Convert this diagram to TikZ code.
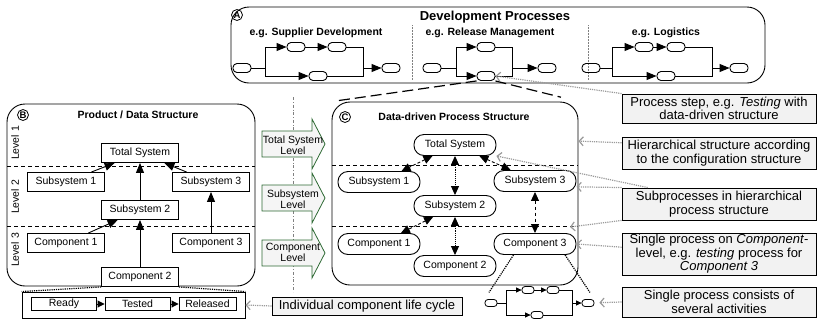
\documentclass[tikz,border=0pt]{standalone}
\usepackage{fontspec}
\setmainfont{Liberation Sans}
\usepackage{tikz}
\usetikzlibrary{arrows.meta}
\definecolor{notefill}{HTML}{F2F2F2}
\definecolor{hintgray}{HTML}{9A9A9A}
\definecolor{levelgreen}{HTML}{2E6A34}
\definecolor{levelfill}{HTML}{F5F5F5}
\tikzset{panel/.style={draw, rounded corners=18pt, line width=0.9pt, inner sep=0}}
\tikzset{badge/.style={draw, circle, line width=0.8pt, minimum size=11pt, inner sep=0, font=\bfseries\fontsize{9.5}{9.5}\selectfont}}
\tikzset{heading/.style={font=\bfseries\fontsize{10.5}{11}\selectfont}}
\tikzset{part/.style={draw, fill=white, line width=0.9pt, minimum width=77pt, minimum height=19pt, inner sep=0, font=\fontsize{10.5}{11}\selectfont}}
\tikzset{proc/.style={draw, fill=white, line width=0.9pt, rounded corners=10pt, minimum width=82pt, minimum height=21pt, inner sep=0, font=\fontsize{10.5}{11}\selectfont}}
\tikzset{lifebox/.style={draw, line width=0.9pt, minimum height=13pt, inner sep=0, font=\fontsize{10.5}{11}\selectfont}}
\tikzset{act/.style={draw, line width=0.9pt, rounded corners=4pt, minimum width=18pt, minimum height=9pt, inner sep=0}}
\tikzset{tinyact/.style={draw, line width=0.8pt, rounded corners=3pt, minimum width=12pt, minimum height=7pt, inner sep=0}}
\tikzset{note/.style={draw, line width=0.9pt, fill=notefill, inner sep=0, align=center, font=\fontsize{13}{13.5}\selectfont}}
\tikzset{levelnote/.style={align=center, font=\fontsize{10.5}{9}\selectfont}}
\tikzset{wire/.style={line width=0.9pt}}
\tikzset{flow/.style={line width=0.9pt, -{Triangle[length=10pt,width=8pt]}}}
\tikzset{stepflow/.style={line width=0.9pt, -{Triangle[length=7pt,width=7pt]}}}
\tikzset{tinyflow/.style={line width=0.8pt, -{Triangle[length=5.5pt,width=5pt]}}}
\tikzset{link/.style={line width=0.9pt, {Triangle[length=9pt,width=8pt]}-{Triangle[length=9pt,width=8pt]}}}
\tikzset{hint/.style={hintgray, line width=1.2pt, densely dotted, -{Straight Barb[length=4pt,width=9pt]}}}
\tikzset{levelline/.style={line width=0.8pt, dash pattern=on 4pt off 3pt}}
\tikzset{zoomline/.style={line width=1.2pt, dash pattern=on 11pt off 5pt}}
\tikzset{zoomdots/.style={line width=1.2pt, densely dotted}}
\tikzset{levelarrow/.style={draw=levelgreen, fill=levelfill, line width=0.8pt}}
\tikzset{sep/.style={gray, line width=0.5pt, densely dotted}}

\begin{document}
\begin{tikzpicture}[x=1pt, y=-1pt]
  \useasboundingbox (0, 0) rectangle (817, 322);

  % panel A: development processes
  \node[panel, minimum width=534pt, minimum height=76pt] at (498, 45) (panelA) {};
  \node[badge] at (237, 15) (badgeA) {A};
  \node[font=\bfseries\fontsize{13}{13}\selectfont] at (495, 17) (titleA) {Development Processes};
  \node[heading] at (316, 33) (supLabel) {e.g. Supplier Development};
  \node[heading] at (490, 33) (relLabel) {e.g. Release Management};
  \node[heading] at (666, 33) (logLabel) {e.g. Logistics};
  \draw[sep] (412, 25) -- (412, 80);
  \draw[sep] (588, 25) -- (588, 80);

  % supplier development
  \node[act] at (242, 68) (supStart) {};
  \node[act] at (296, 47) (supA) {};
  \node[act] at (337, 47) (supB) {};
  \node[act] at (318, 76) (supC) {};
  \node[act] at (391, 68) (supEnd) {};
  \coordinate (supSplit) at (265, 68);
  \coordinate (supJoin) at (363, 68);
  \draw[wire] (supStart) -- (supSplit);
  \draw[flow] (supSplit) |- (supA);
  \draw[flow] (supA) -- (supB);
  \draw[wire] (supB) -| (supJoin);
  \draw[flow] (supSplit) |- (supC);
  \draw[wire] (supC) -| (supJoin);
  \draw[flow] (supJoin) -- (supEnd);

  % release management
  \node[act] at (432, 68) (relStart) {};
  \node[act] at (486, 47) (relA) {};
  \node[act] at (486, 76) (relB) {};
  \node[act] at (547, 68) (relEnd) {};
  \coordinate (relSplit) at (456, 68);
  \coordinate (relJoin) at (512, 68);
  \draw[wire] (relStart) -- (relSplit);
  \draw[flow] (relSplit) |- (relA);
  \draw[wire] (relA) -| (relJoin);
  \draw[flow] (relSplit) |- (relB);
  \draw[wire] (relB) -| (relJoin);
  \draw[flow] (relJoin) -- (relEnd);

  % logistics
  \node[act] at (591, 68) (logStart) {};
  \node[act] at (644, 47) (logA) {};
  \node[act] at (676, 47) (logB) {};
  \node[act] at (666, 76) (logC) {};
  \node[act] at (739, 68) (logEnd) {};
  \coordinate (logSplit) at (612, 68);
  \coordinate (logJoin) at (712, 68);
  \draw[wire] (logStart) -- (logSplit);
  \draw[flow] (logSplit) |- (logA);
  \draw[flow] (logA) -- (logB);
  \draw[wire] (logB) -| (logJoin);
  \draw[flow] (logSplit) |- (logC);
  \draw[wire] (logC) -| (logJoin);
  \draw[flow] (logJoin) -- (logEnd);

  % level arrows between B and C
  \draw[gray, line width=0.6pt, dash dot] (293, 97) -- (293, 292);
  \draw[levelarrow] (262,131) -- (312,131) -- (312,119) -- (325,144) -- (312,169) -- (312,157) -- (262,157) -- cycle;
  \draw[levelarrow] (262,185) -- (312,185) -- (312,173) -- (325,198) -- (312,223) -- (312,211) -- (262,211) -- cycle;
  \draw[levelarrow] (262,240) -- (312,240) -- (312,228) -- (325,253) -- (312,278) -- (312,266) -- (262,266) -- cycle;
  \node[levelnote] at (293, 145) (lvlTotal) {Total System\\Level};
  \node[levelnote] at (293, 199) (lvlSub) {Subsystem\\Level};
  \node[levelnote] at (293, 252) (lvlComp) {Component\\Level};

  % panel B: product / data structure
  \node[panel, minimum width=248pt, minimum height=182pt] at (131, 195) (panelB) {};
  \node[badge] at (23, 115) (badgeB) {B};
  \node[heading] at (138, 115) (titleB) {Product / Data Structure};
  \draw[levelline] (7, 166) -- (255, 166);
  \draw[levelline] (7, 226) -- (255, 226);
  \node[rotate=90, font=\fontsize{10.5}{11}\selectfont] at (15, 143) (bLvlOne) {Level 1};
  \node[rotate=90, font=\fontsize{10.5}{11}\selectfont] at (15, 197) (bLvlTwo) {Level 2};
  \node[rotate=90, font=\fontsize{10.5}{11}\selectfont] at (15, 250) (bLvlThree) {Level 3};
  \node[part] at (140, 153) (bTotal) {Total System};
  \node[part] at (66, 182) (bSubOne) {Subsystem 1};
  \node[part] at (140, 210) (bSubTwo) {Subsystem 2};
  \node[part] at (211, 182) (bSubThree) {Subsystem 3};
  \node[part] at (66, 243) (bCompOne) {Component 1};
  \node[part] at (140, 277) (bCompTwo) {Component 2};
  \node[part] at (211, 243) (bCompThree) {Component 3};
  \draw[flow] (bSubOne) -- (bTotal);
  \draw[flow] (bSubTwo) -- (bTotal);
  \draw[flow] (bSubThree) -- (bTotal);
  \draw[flow] (bCompOne) -- (bSubTwo);
  \draw[flow] (bCompTwo) -- (bSubTwo);
  \draw[flow] (bCompThree) -- (bSubThree);

  % life cycle of component 2
  \node[draw, line width=0.9pt, minimum width=223pt, minimum height=26pt] at (133.5, 305) (life) {};
  \node[lifebox, minimum width=65pt] at (64, 304) (ready) {Ready};
  \node[lifebox, minimum width=65pt] at (137.5, 304) (tested) {Tested};
  \node[lifebox, minimum width=57pt] at (207.5, 304) (released) {Released};
  \draw[stepflow] (ready) -- (tested);
  \draw[stepflow] (tested) -- (released);
  \draw[zoomdots] (bCompTwo.south west) -- (life.north west);
  \draw[zoomdots] (bCompTwo.south east) -- (life.north east);

  % panel C: data-driven process structure
  \node[panel, minimum width=246pt, minimum height=183pt] at (455, 193.5) (panelC) {};
  \node[badge] at (345, 117) (badgeC) {C};
  \node[heading] at (454, 117) (titleC) {Data-driven Process Structure};
  \draw[levelline] (332, 165) -- (578, 165);
  \draw[levelline] (332, 226) -- (578, 226);
  \node[proc] at (455, 145) (cTotal) {Total System};
  \node[proc] at (379, 182) (cSubOne) {Subsystem 1};
  \node[proc] at (455, 206) (cSubTwo) {Subsystem 2};
  \node[proc] at (535, 181) (cSubThree) {Subsystem 3};
  \node[proc] at (379, 244) (cCompOne) {Component 1};
  \node[proc] at (455, 266) (cCompTwo) {Component 2};
  \node[proc] at (535, 244) (cCompThree) {Component 3};
  \draw[link, densely dashed] (cTotal) -- (cSubOne);
  \draw[link, densely dotted] (cTotal) -- (cSubTwo);
  \draw[link, densely dashed] (cTotal) -- (cSubThree);
  \draw[link, dashed] (cSubThree) -- (cCompThree);
  \draw[link, densely dashed] (cSubTwo) -- (cCompOne);
  \draw[link, densely dotted] (cSubTwo) -- (cCompTwo);

  % zoom from release step into C
  \draw[zoomline, shorten >=6pt] (relB.south west) -- (panelC.north west);
  \draw[zoomline, shorten >=18pt] (relB.south east) -- (panelC.north east);

  % activities of component 3
  \node[tinyact] at (491, 303) (sStart) {};
  \node[tinyact] at (528, 290) (sA) {};
  \node[tinyact] at (553, 290) (sB) {};
  \node[tinyact] at (537, 315) (sC) {};
  \node[tinyact] at (588, 303) (sEnd) {};
  \coordinate (sSplit) at (506, 303);
  \coordinate (sJoin) at (572, 303);
  \draw[wire] (sStart) -- (sSplit);
  \draw[tinyflow] (sSplit) |- (sA);
  \draw[tinyflow] (sA) -- (sB);
  \draw[wire] (sB) -| (sJoin);
  \draw[tinyflow] (sSplit) |- (sC);
  \draw[wire] (sC) -| (sJoin);
  \draw[tinyflow] (sJoin) -- (sEnd);
  \draw[zoomdots, shorten >=8pt] (cCompThree.-153) -- (sStart.north west);
  \draw[zoomdots, shorten >=8pt] (cCompThree.-20) -- (sEnd.north east);

  % notes
  \node[note, minimum width=194pt, minimum height=29pt] at (719, 108.5) (noteStep) {Process step, e.g. \textit{Testing} with\\data-driven structure};
  \node[note, minimum width=194pt, minimum height=32pt] at (719, 153) (noteHier) {Hierarchical structure according\\to the configuration structure};
  \node[note, minimum width=194pt, minimum height=32pt] at (719, 204) (noteSub) {Subprocesses in hierarchical\\process structure};
  \node[note, minimum width=194pt, minimum height=42pt] at (719, 254) (noteSingle) {Single process on \textit{Component}-\\level, e.g. \textit{testing} process for\\\textit{Component 3}};
  \node[note, minimum width=194pt, minimum height=30pt] at (719, 302) (noteAct) {Single process consists of\\several activities};
  \node[note, minimum width=190pt, minimum height=18pt] at (367, 306) (noteLife) {Individual component life cycle};
  \draw[hint] (noteStep.north west) -- (relB.east);
  \draw[hint] (noteHier.174) -- (panelC.23);
  \draw[hint] (noteSub.167) -- (cTotal.south east);
  \draw[hint] (noteSub.north west) -- (cSubThree.-8);
  \draw[hint] (noteSub.south west) -- (570, 227);
  \draw[hint] (noteSingle.176) -- (cCompThree.east);
  \draw[hint, shorten >=5pt] (noteAct.west) -- (sEnd);
  \draw[hint] (noteLife.west) -- (life.east);
\end{tikzpicture}
\end{document}
